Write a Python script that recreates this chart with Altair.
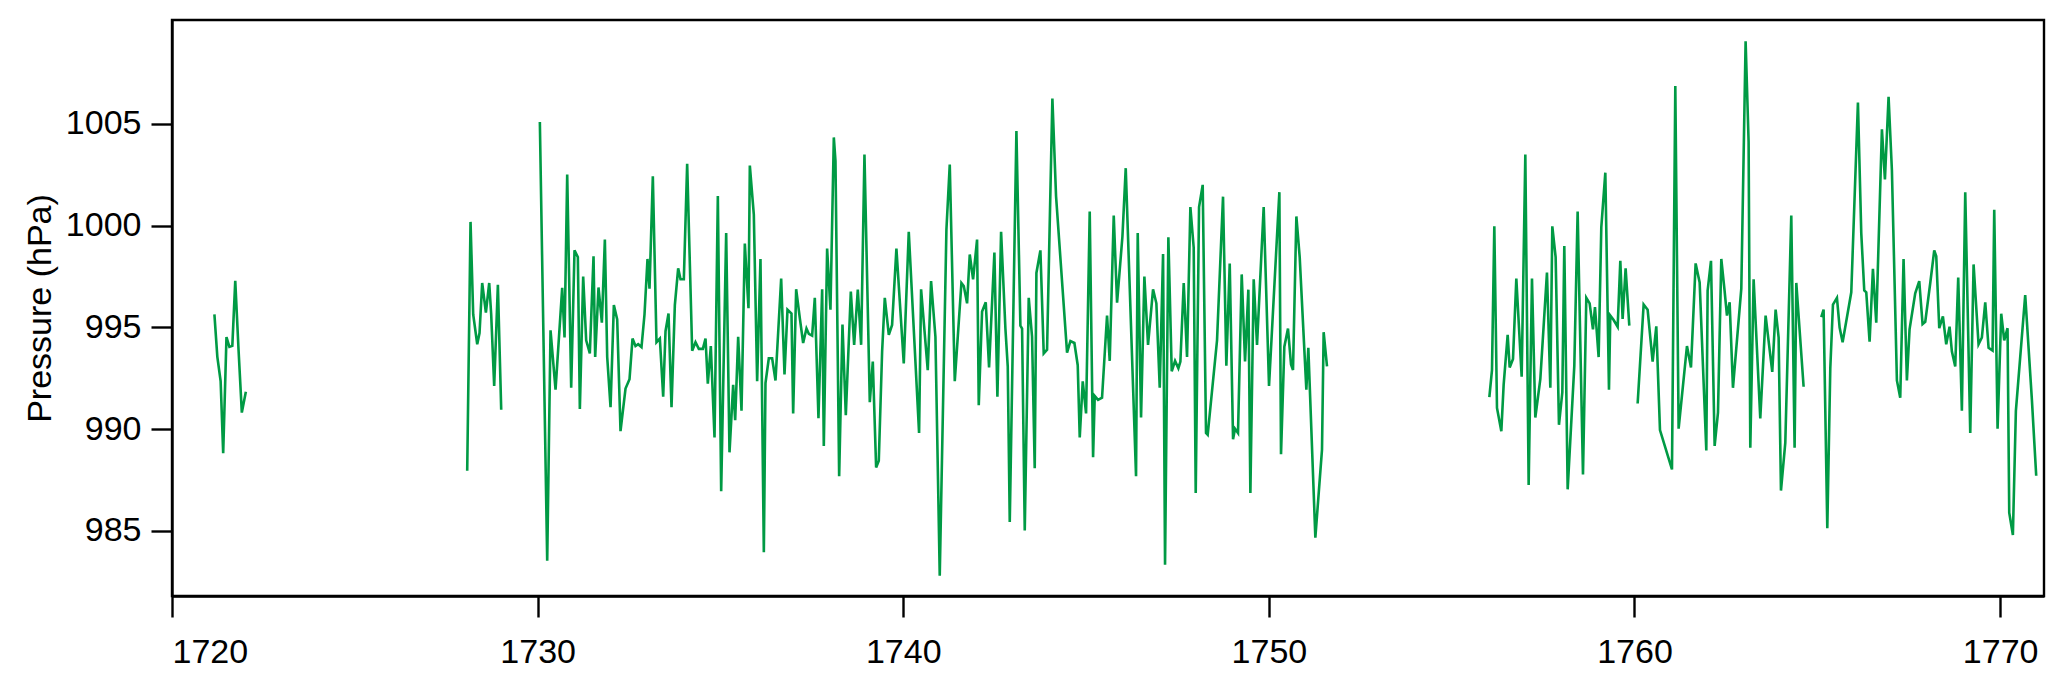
import altair as alt
import pandas as pd

# Segment 1: 1721-1722
years_a = [1721.16, 1721.24, 1721.33, 1721.40, 1721.49, 1721.57, 1721.65, 1721.73, 1721.82, 1721.91, 1722.02]
vals_a = [995.64, 993.55, 992.36, 988.81, 994.52, 994.04, 994.09, 997.28, 993.9, 990.81, 991.83]

# Segment 2: 1728-1729
years_b = [1728.074, 1728.165, 1728.238, 1728.348, 1728.411, 1728.484, 1728.585, 1728.676, 1728.730, 1728.812, 1728.913, 1729.004]
vals_b = [987.95, 1000.18, 995.63, 994.17, 994.72, 997.18, 995.72, 997.18, 995.63, 992.12, 997.09, 990.95]

# Segment 3: 1730-1751.6
years_c = [
    1730.061, 1730.262, 1730.353, 1730.490, 1730.672, 1730.736, 1730.809, 1730.918, 1731.009, 1731.100,
    1731.155, 1731.246, 1731.328, 1731.428, 1731.529, 1731.574, 1731.665, 1731.757, 1731.839, 1731.903,
    1731.994, 1732.085, 1732.176, 1732.267, 1732.404, 1732.513, 1732.595, 1732.677, 1732.750, 1732.841,
    1732.923, 1733.005, 1733.060, 1733.151, 1733.251, 1733.343, 1733.434, 1733.498, 1733.580, 1733.662,
    1733.753, 1733.844, 1733.908, 1733.999, 1734.090, 1734.227, 1734.318, 1734.409, 1734.519, 1734.592,
    1734.655, 1734.737, 1734.838, 1734.929, 1735.020, 1735.157, 1735.248, 1735.348, 1735.403, 1735.485,
    1735.576, 1735.667, 1735.767, 1735.804, 1735.913, 1736.004, 1736.095, 1736.187, 1736.232, 1736.323,
    1736.414, 1736.506, 1736.661, 1736.752, 1736.834, 1736.943, 1736.989, 1737.071, 1737.171, 1737.262,
    1737.353, 1737.417, 1737.508, 1737.581, 1737.681, 1737.782, 1737.827, 1737.918, 1738.009, 1738.101,
    1738.146, 1738.247, 1738.338, 1738.429, 1738.566, 1738.657, 1738.757, 1738.848, 1738.939, 1739.085,
    1739.167, 1739.258, 1739.331, 1739.422, 1739.495, 1739.605, 1739.695, 1739.813, 1740.014, 1740.151,
    1740.433, 1740.488, 1740.670, 1740.761, 1740.880, 1740.998, 1741.181, 1741.272, 1741.409, 1741.591,
    1741.655, 1741.746, 1741.819, 1741.910, 1742.019, 1742.065, 1742.156, 1742.256, 1742.347, 1742.493,
    1742.575, 1742.676, 1742.794, 1742.858, 1742.913, 1743.095, 1743.204, 1743.250, 1743.323, 1743.432,
    1743.523, 1743.596, 1743.642, 1743.751, 1743.842, 1743.933, 1744.079, 1744.179, 1744.480, 1744.572,
    1744.681, 1744.772, 1744.827, 1744.909, 1745.000, 1745.100, 1745.192, 1745.237, 1745.328, 1745.437,
    1745.574, 1745.647, 1745.757, 1745.848, 1745.994, 1746.085, 1746.367, 1746.413, 1746.504, 1746.595,
    1746.695, 1746.832, 1746.923, 1747.015, 1747.106, 1747.160, 1747.251, 1747.343, 1747.434, 1747.525,
    1747.580, 1747.671, 1747.762, 1747.853, 1747.944, 1747.999, 1748.090, 1748.190, 1748.281, 1748.327,
    1748.582, 1748.746, 1748.837, 1748.929, 1749.020, 1749.074, 1749.156, 1749.257, 1749.348, 1749.439,
    1749.494, 1749.585, 1749.676, 1749.858, 1750.004, 1750.287, 1750.332, 1750.423, 1750.523, 1750.606,
    1750.660, 1750.752, 1750.843, 1751.025, 1751.079, 1751.271, 1751.453, 1751.498, 1751.590,
]
vals_c = [
    1005.09, 983.53, 994.85, 991.94, 996.94, 994.50, 1002.51, 992.03, 998.78, 998.45,
    990.99, 997.49, 994.36, 993.72, 998.49, 993.54, 996.96, 995.23, 999.31, 993.54,
    991.08, 996.09, 995.39, 989.90, 991.99, 992.45, 994.45, 994.08, 994.17, 994.03,
    995.63, 998.36, 996.90, 1002.42, 994.27, 994.45, 991.59, 994.81, 995.68, 991.08,
    996.09, 997.90, 997.36, 997.36, 1003.04, 993.85, 994.27, 993.94, 993.94, 994.45,
    992.23, 994.08, 989.59, 1001.45, 986.95, 999.63, 988.86, 992.17, 990.44, 994.54,
    990.90, 999.12, 995.94, 1002.95, 1000.54, 992.35, 998.36, 983.95, 992.26, 993.48,
    993.48, 992.39, 997.40, 992.68, 995.87, 995.68, 990.77, 996.87, 995.45, 994.23,
    994.94, 994.68, 994.59, 996.45, 990.53, 996.87, 989.17, 998.87, 995.87, 1004.33,
    1003.18, 987.68, 995.14, 990.68, 996.76, 994.14, 996.85, 994.14, 1003.49, 991.32,
    993.32, 988.11, 988.44, 993.81, 996.45, 994.63, 995.12, 998.87, 993.23, 999.69,
    989.81, 996.87, 992.90, 997.27, 994.54, 982.80, 999.82, 1003.00, 992.35, 997.18,
    997.03, 996.18, 998.58, 997.36, 999.31, 991.17, 995.78, 996.23, 993.03, 998.67,
    991.59, 999.69, 994.94, 993.08, 985.44, 1004.64, 995.08, 994.94, 985.02, 996.45,
    994.54, 988.08, 997.67, 998.78, 993.72, 993.90, 1006.24, 1001.45, 993.76, 994.32,
    994.23, 993.14, 989.59, 992.35, 990.77, 1000.69, 988.62, 991.63, 991.44, 991.54,
    995.58, 993.35, 1000.49, 996.21, 999.45, 1002.82, 987.68, 999.63, 990.57, 997.50,
    994.14, 996.87, 996.18, 992.03, 998.60, 983.34, 999.42, 992.84, 993.35, 992.99,
    993.32, 997.18, 993.54, 1000.91, 998.91, 986.86, 1000.91, 1002.00, 989.81, 989.72,
    994.36, 1001.42, 993.12, 998.14, 989.50, 990.02, 989.81, 997.60, 993.32, 996.85,
    986.86, 997.36, 994.14, 1000.91, 992.12, 1001.64, 988.77, 994.05, 994.94, 993.17,
    992.90, 1000.45, 998.45, 991.94, 993.99, 984.67, 988.99, 994.76, 993.08,
]

# Segment 4: 1756-1759.9
years_d = [
    1756.030, 1756.102, 1756.166, 1756.239, 1756.358, 1756.421, 1756.531, 1756.586, 1756.677, 1756.768,
    1756.914, 1757.014, 1757.105, 1757.196, 1757.287, 1757.424, 1757.606, 1757.698, 1757.752, 1757.843,
    1757.934, 1758.026, 1758.080, 1758.172, 1758.354, 1758.445, 1758.591, 1758.682, 1758.773, 1758.864,
    1758.919, 1759.019, 1759.092, 1759.202, 1759.302, 1759.338, 1759.429, 1759.539, 1759.612, 1759.675,
    1759.757, 1759.858,
]
vals_d = [
    991.57, 992.90, 999.96, 991.04, 989.90, 992.17, 994.63, 993.03, 993.45, 997.40,
    992.57, 1003.49, 987.26, 997.40, 990.57, 992.45, 997.69, 992.03, 999.96, 998.45,
    990.21, 991.81, 999.00, 987.04, 993.12, 1000.69, 987.77, 996.45, 996.18, 994.90,
    995.99, 993.54, 999.91, 1002.60, 991.94, 995.58, 995.36, 995.03, 998.27, 995.41,
    997.90, 995.08,
]

# Segment 5: 1760-1764.6
years_e = [
    1760.086, 1760.250, 1760.359, 1760.496, 1760.596, 1760.697, 1761.025, 1761.116, 1761.207, 1761.435,
    1761.545, 1761.672, 1761.782, 1761.964, 1762.000, 1762.092, 1762.192, 1762.283, 1762.374, 1762.465,
    1762.529, 1762.602, 1762.693, 1762.921, 1763.039, 1763.121, 1763.167, 1763.258, 1763.440, 1763.586,
    1763.768, 1763.860, 1763.942, 1764.006, 1764.124, 1764.288, 1764.379, 1764.425, 1764.625,
]
vals_e = [
    991.26, 996.12, 995.87, 993.32, 995.05, 989.95, 988.02, 1006.86, 990.02, 994.08,
    993.03, 998.14, 997.21, 988.95, 996.81, 998.27, 989.17, 990.81, 998.36, 996.78,
    995.58, 996.23, 992.03, 996.90, 1009.06, 1004.09, 989.08, 997.36, 990.53, 995.58,
    992.81, 995.87, 994.50, 986.98, 989.32, 1000.49, 989.08, 997.18, 992.08,
]

# Segment 6: 1765-1771
years_f = [
    1765.108, 1765.172, 1765.273, 1765.355, 1765.428, 1765.537, 1765.610, 1765.692, 1765.929, 1766.111,
    1766.202, 1766.284, 1766.339, 1766.430, 1766.521, 1766.612, 1766.767, 1766.849, 1766.949, 1767.040,
    1767.177, 1767.268, 1767.359, 1767.450, 1767.523, 1767.678, 1767.788, 1767.879, 1767.952, 1768.089,
    1768.198, 1768.253, 1768.335, 1768.435, 1768.526, 1768.617, 1768.681, 1768.772, 1768.854, 1768.954,
    1769.046, 1769.183, 1769.274, 1769.410, 1769.501, 1769.593, 1769.684, 1769.793, 1769.839, 1769.930,
    1770.030, 1770.112, 1770.203, 1770.249, 1770.349, 1770.431, 1770.686, 1770.869, 1770.987,
]
vals_f = [
    995.50, 995.87, 985.13, 992.99, 996.12, 996.45, 994.99, 994.27, 996.72, 1006.04,
    999.63, 996.81, 996.72, 994.30, 997.87, 995.23, 1004.73, 1002.27, 1006.33, 1002.73,
    992.39, 991.54, 998.36, 992.39, 994.90, 996.67, 997.27, 995.16, 995.27, 997.18,
    998.78, 998.49, 994.96, 995.54, 994.17, 995.03, 993.81, 993.08, 997.45, 990.90,
    1001.64, 989.81, 998.09, 994.17, 994.50, 996.23, 993.99, 993.86, 1000.78, 990.02,
    995.67, 994.36, 994.96, 985.89, 984.80, 990.90, 996.58, 991.44, 987.71,
]

x_ticks = [1720, 1730, 1740, 1750, 1760, 1770]
y_ticks = [985, 990, 995, 1000, 1005]

frames = []
for seg, (ys, vs) in enumerate([(years_a, vals_a), (years_b, vals_b), (years_c, vals_c),
                                (years_d, vals_d), (years_e, vals_e), (years_f, vals_f)]):
    frames.append(pd.DataFrame({"year": ys, "pressure": vs, "seg": seg}))
df = pd.concat(frames, ignore_index=True)
df["order"] = range(len(df))

FONT = "Liberation Sans"
FS = 34

chart = alt.Chart(df).mark_line(color="#009a44", strokeWidth=2.6).encode(
    x=alt.X("year:Q", scale=alt.Scale(domain=[1720, 1771.2], nice=False, zero=False),
            axis=alt.Axis(values=x_ticks, format="d", title=None, grid=False,
                          tickSize=21, tickWidth=2.4, labelPadding=18, domainWidth=2.4,
                          domainColor="black", tickColor="black",
                          labelFont=FONT, labelFontSize=FS, labelColor="black")),
    y=alt.Y("pressure:Q", scale=alt.Scale(domain=[981.8, 1010.1], nice=False, zero=False),
            axis=alt.Axis(values=y_ticks, format="d", title="Pressure (hPa)", grid=False,
                          tickSize=21, tickWidth=2.4, labelPadding=10, domainWidth=2.4,
                          domainColor="black", tickColor="black", titlePadding=8,
                          labelFont=FONT, labelFontSize=FS, labelColor="black",
                          titleFont=FONT, titleFontSize=FS, titleColor="black",
                          titleFontWeight="normal")),
    detail="seg:N",
    order="order:Q",
).properties(
    width=1872, height=576,
    padding={"left": 15, "top": 12, "right": 5, "bottom": 5},
    background="white",
).configure_view(
    stroke="black", strokeWidth=2.4
)

chart.save("out.html", embed_options={"renderer": "svg", "actions": False})
